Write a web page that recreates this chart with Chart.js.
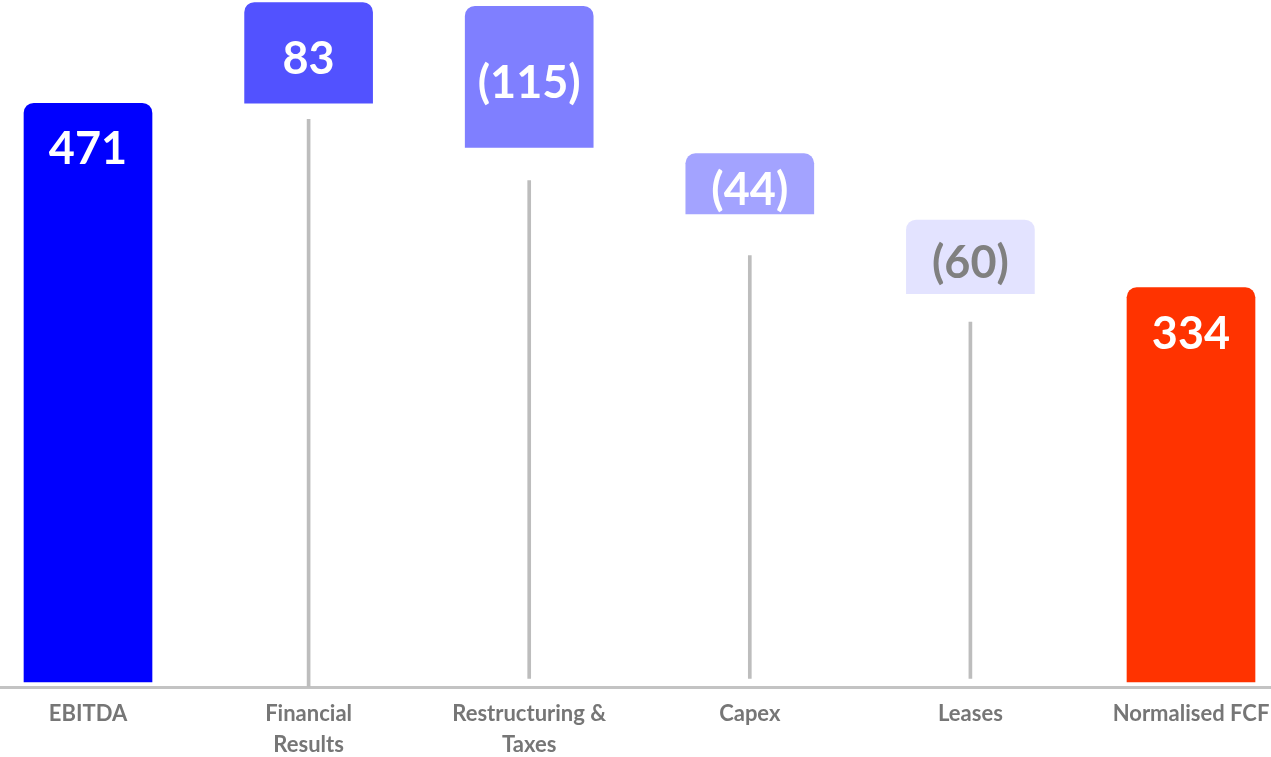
<!DOCTYPE html>
<html>
<head>
<meta charset="utf-8">
<script src="https://cdn.jsdelivr.net/npm/chart.js@4"></script>
<style>
  html, body { margin: 0; padding: 0; background: #ffffff; }
  #wrap { width: 1271px; height: 757px; position: relative; }
</style>
</head>
<body>
<div id="wrap"><canvas id="c"></canvas></div>
<script>
// ---- data ----
const categories = ['EBITDA', ['Financial', 'Results'], ['Restructuring &', 'Taxes'], 'Capex', 'Leases', 'Normalised FCF'];
const valueLabels = ['471', '83', '(115)', '(44)', '(60)', '334'];
const barStarts = [0, 471, 435, 381, 316, 0];
const barEnds   = [471, 553, 550, 430, 376, 321];
// thin gray connector stems under the floating bars
const stemStarts = [null, -4, 3, 3, 3, null];
const stemEnds   = [null, 458, 408, 347, 293, null];

// ---- styles ----
const barColors = ['#0000FF', '#5252FF', '#7F7FFF', '#A3A3FF', '#E3E3FF', '#FF3300'];
const labelColors = ['#FFFFFF', '#FFFFFF', '#FFFFFF', '#FFFFFF', '#808080', '#FFFFFF'];

const barData = barStarts.map((s, i) => [s, barEnds[i]]);
const stemData = stemStarts.map((s, i) => (s === null ? null : [s, stemEnds[i]]));

const baselinePlugin = {
  id: 'baseline',
  beforeDatasetsDraw(chart) {
    const ctx = chart.ctx;
    const y = chart.scales.y.getPixelForValue(0) + 5.5;
    ctx.save();
    ctx.strokeStyle = '#C3C3C3';
    ctx.lineWidth = 3;
    ctx.beginPath();
    ctx.moveTo(0, y);
    ctx.lineTo(chart.width, y);
    ctx.stroke();
    ctx.restore();
  }
};

const valueLabelPlugin = {
  id: 'valueLabels',
  afterDatasetsDraw(chart) {
    const ctx = chart.ctx;
    const meta = chart.getDatasetMeta(0);
    ctx.save();
    ctx.font = 'bold 45px Lato, "Open Sans", sans-serif';
    ctx.textAlign = 'center';
    ctx.textBaseline = 'alphabetic';
    meta.data.forEach((el, i) => {
      const top = Math.min(el.y, el.base);
      const bottom = Math.max(el.y, el.base);
      let ty;
      if (barStarts[i] === 0) {
        ty = top + 61;
      } else {
        ty = (top + bottom) / 2 + 21;
      }
      ctx.fillStyle = labelColors[i];
      ctx.fillText(valueLabels[i], el.x, ty);
    });
    ctx.restore();
  }
};

new Chart(document.getElementById('c'), {
  type: 'bar',
  data: {
    labels: categories,
    datasets: [
      {
        data: barData,
        backgroundColor: barColors,
        barThickness: 128,
        grouped: false,
        borderSkipped: false,
        borderRadius: { topLeft: 10, topRight: 10, bottomLeft: 0, bottomRight: 0 },
        clip: false,
        order: 1
      },
      {
        data: stemData,
        backgroundColor: '#BDBDBD',
        barThickness: 3,
        grouped: false,
        borderRadius: 0,
        clip: false,
        order: 2
      }
    ]
  },
  options: {
    responsive: true,
    maintainAspectRatio: false,
    animation: false,
    devicePixelRatio: 1,
    layout: { padding: { left: 88, right: 80, top: 0, bottom: 0 } },
    plugins: {
      legend: { display: false },
      tooltip: { enabled: false },
      title: { display: false }
    },
    scales: {
      x: {
        offset: false,
        grid: { display: false, drawTicks: false },
        border: { display: false },
        ticks: {
          autoSkip: false,
          maxRotation: 0,
          minRotation: 0,
          padding: -3,
          color: '#767676',
          font: { family: 'Lato, "Open Sans", sans-serif', size: 22, weight: 'bold', lineHeight: '31px' }
        }
      },
      y: {
        display: false,
        min: -15.46,
        max: 555.05
      }
    }
  },
  plugins: [baselinePlugin, valueLabelPlugin]
});
</script>
</body>
</html>
